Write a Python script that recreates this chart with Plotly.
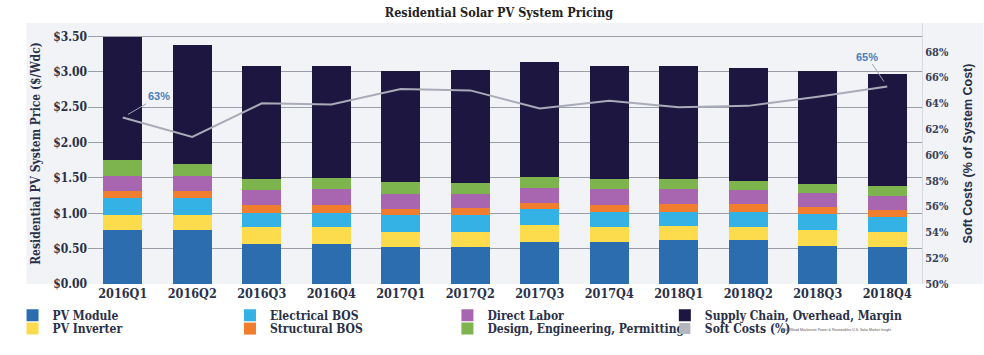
import plotly.graph_objects as go

# Quarterly residential PV system price breakdown ($/Wdc)
quarters = ["2016Q1", "2016Q2", "2016Q3", "2016Q4",
            "2017Q1", "2017Q2", "2017Q3", "2017Q4",
            "2018Q1", "2018Q2", "2018Q3", "2018Q4"]

pv_module = [0.76, 0.76, 0.57, 0.57, 0.52, 0.52, 0.60, 0.60, 0.62, 0.62, 0.54, 0.53]
pv_inverter = [0.22, 0.22, 0.23, 0.23, 0.22, 0.22, 0.23, 0.20, 0.20, 0.19, 0.23, 0.20]
electrical_bos = [0.23, 0.23, 0.21, 0.21, 0.23, 0.23, 0.23, 0.22, 0.20, 0.21, 0.22, 0.22]
structural_bos = [0.11, 0.11, 0.11, 0.11, 0.09, 0.10, 0.09, 0.10, 0.11, 0.11, 0.10, 0.09]
direct_labor = [0.21, 0.21, 0.21, 0.22, 0.22, 0.21, 0.21, 0.22, 0.21, 0.20, 0.20, 0.21]
design_eng_permitting = [0.22, 0.17, 0.16, 0.16, 0.16, 0.15, 0.15, 0.14, 0.14, 0.13, 0.12, 0.13]
supply_chain_margin = [1.75, 1.68, 1.59, 1.58, 1.57, 1.60, 1.63, 1.61, 1.61, 1.60, 1.60, 1.59]

# Soft costs as share of total system cost (%)
soft_costs_pct = [62.9, 61.4, 64.0, 63.9, 65.1, 65.0, 63.6, 64.2, 63.7, 63.8, 64.5, 65.3]

price_ticks = [0.0, 0.5, 1.0, 1.5, 2.0, 2.5, 3.0, 3.5]
price_tick_text = ["$0.00", "$0.50", "$1.00", "$1.50", "$2.00", "$2.50", "$3.00", "$3.50"]
pct_ticks = [50, 52, 54, 56, 58, 60, 62, 64, 66, 68]
pct_tick_text = ["50%", "52%", "54%", "56%", "58%", "60%", "62%", "64%", "66%", "68%"]

SERIF = "DejaVu Serif Condensed, DejaVu Serif, serif"
SANS = "Liberation Sans, Arial, sans-serif"
TEXT = "#2a3048"

# legend grid: 4 columns x 2 rows (left pixel of each column, centre y of each row)
LEGEND_COLS = [6, 225, 444, 663]
LEGEND_ROWS = [331, 345]

# (name, values, colour, legend column, legend row)
components = [
    ("PV Module", pv_module, "#2c6db0", 0, 0),
    ("PV Inverter", pv_inverter, "#fcdc4c", 0, 1),
    ("Electrical BOS", electrical_bos, "#34b2e6", 1, 0),
    ("Structural BOS", structural_bos, "#f07e2e", 1, 1),
    ("Direct Labor", direct_labor, "#a866b0", 2, 0),
    ("Design, Engineering, Permitting", design_eng_permitting, "#7db44e", 2, 1),
    ("Supply Chain, Overhead, Margin", supply_chain_margin, "#1c1640", 3, 0),
]


def legend_block(px_left, px_mid_y):
    return dict(
        orientation="h", xanchor="left", yanchor="middle",
        x=(px_left - 82) / 840, y=(298 - px_mid_y) / 275,
        bgcolor="rgba(0,0,0,0)",
        font=dict(family=SERIF, size=12, color=TEXT, weight=700),
        itemclick=False, itemdoubleclick=False,
    )


fig = go.Figure()
legends = {}

for i, (name, vals, color, col, row) in enumerate(components):
    key = "legend" if i == 0 else f"legend{i + 1}"
    legends[key] = legend_block(LEGEND_COLS[col], LEGEND_ROWS[row])
    fig.add_trace(go.Bar(
        x=quarters, y=vals, name=name,
        marker=dict(color=color, line=dict(width=0)),
        width=0.56, legend=key,
    ))

fig.add_trace(go.Scatter(
    x=quarters, y=soft_costs_pct, yaxis="y2", mode="lines",
    line=dict(color="#a9abb8", width=2), showlegend=False,
    name="Soft Costs (%)",
))
# legend swatch for the soft-cost line
legends["legend8"] = legend_block(LEGEND_COLS[3], LEGEND_ROWS[1])
fig.add_trace(go.Scatter(
    x=[None], y=[None], yaxis="y2", mode="markers",
    marker=dict(symbol="square", size=11, color="#b3b5bf"),
    name="Soft Costs (%)", legend="legend8",
))

# background panel of the chart area
fig.add_shape(type="rect", xref="paper", yref="paper",
              x0=(20 - 82) / 840, x1=(984 - 82) / 840, y0=0, y1=1,
              fillcolor="#f1f3f6", line=dict(width=0), layer="below")

label_font = dict(family=SANS, size=11, color="#4a80bf", weight=700)
fig.add_annotation(x=quarters[0], y=soft_costs_pct[0], yref="y2",
                   text="63%", showarrow=True, arrowhead=0,
                   arrowwidth=1, arrowcolor="#9ea3b3", ax=36, ay=-21,
                   standoff=6, font=label_font)
fig.add_annotation(x=quarters[-1], y=soft_costs_pct[-1], yref="y2",
                   text="65%", showarrow=True, arrowhead=0,
                   arrowwidth=1, arrowcolor="#9ea3b3", ax=-20, ay=-30,
                   standoff=6, font=label_font)

fig.add_annotation(xref="paper", yref="paper",
                   x=(893 - 82) / 840, y=(298 - 346) / 275,
                   xanchor="right", yanchor="middle", showarrow=False,
                   text="SEIA/Wood Mackenzie Power & Renewables U.S. Solar Market Insight",
                   font=dict(family=SANS, size=3.5, color="#555"))

fig.update_layout(
    width=984, height=355,
    margin=dict(l=82, r=62, t=23, b=57),
    paper_bgcolor="white",
    plot_bgcolor="#f1f3f6",
    barmode="stack",
    bargap=0.44,
    title=dict(text="Residential Solar PV System Pricing",
               x=499 / 984, xanchor="center", y=1 - 13 / 355, yanchor="middle",
               yref="container",
               font=dict(family=SERIF, size=12.5, color="#222", weight=700)),
    xaxis=dict(
        type="category", range=[-0.5, 11.5],
        showgrid=False, zeroline=False, showline=False, ticks="",
        tickfont=dict(family=SERIF, size=12.5, color=TEXT, weight=700),
    ),
    yaxis=dict(
        range=[0, 3.5 * 275 / 260.7],
        tickmode="array", tickvals=price_ticks, ticktext=price_tick_text,
        showgrid=True, gridcolor="#9a9ea7", gridwidth=1.3,
        zeroline=False, showline=False, ticks="",
        tickfont=dict(family=SERIF, size=12, color=TEXT, weight=700),
        title=dict(text="Residential PV System Price ($/Wdc)",
                   font=dict(family=SERIF, size=12, color=TEXT, weight=700), standoff=9),
    ),
    yaxis2=dict(
        overlaying="y", side="right",
        range=[50, 50 + 275 / 13.6],
        tickmode="array", tickvals=pct_ticks, ticktext=pct_tick_text,
        showgrid=False, zeroline=False,
        showline=True, linecolor="#d6dae0", linewidth=1, ticks="",
        tickfont=dict(family=SERIF, size=11, color="#3a3f55", weight=700),
        title=dict(text="Soft Costs (% of System Cost)",
                   font=dict(family=SANS, size=12.5, color=TEXT, weight=700),
                   standoff=15),
    ),
    **legends,
)

fig.write_html("out.html")
